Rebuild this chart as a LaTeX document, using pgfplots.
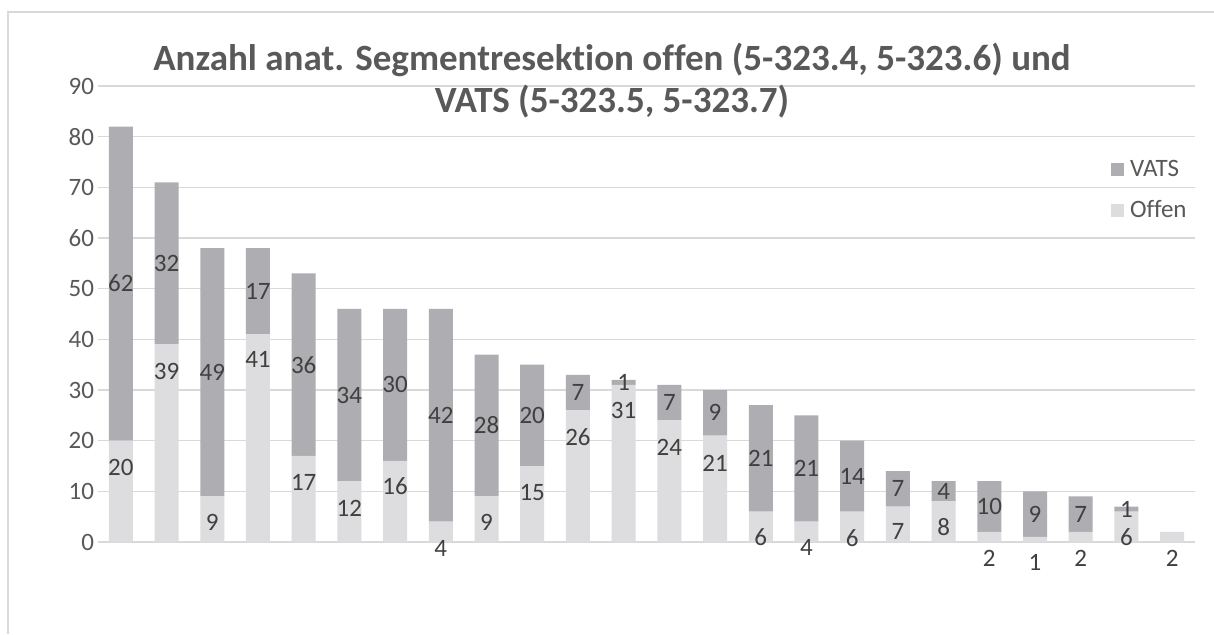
\documentclass[border=0pt]{standalone}
\usepackage{pgfplots}
\pgfplotsset{compat=1.18}
\usepackage{pgfplotstable}
\usepackage{fontspec}
\setmainfont{Carlito}[Ligatures=NoCommon]
\definecolor{vats}{HTML}{AEAEB2}
\definecolor{offen}{HTML}{DDDCDE}
\definecolor{gridc}{HTML}{D9D9D9}
\definecolor{txt}{HTML}{595959}
\definecolor{labc}{HTML}{404040}

\pgfplotstableread{
x off vats
0 20 62
1 39 32
2 9 49
3 41 17
4 17 36
5 12 34
6 16 30
7 4 42
8 9 28
9 15 20
10 26 7
11 31 1
12 24 7
13 21 9
14 6 21
15 4 21
16 6 14
17 7 7
18 8 4
19 2 10
20 1 9
21 2 7
22 6 1
23 2 0
}\datatab

\pgfplotstableread{
x y lab
0 14.8 20
1 33.7 39
2 3.9 9
3 36.1 41
4 11.8 17
5 6.7 12
6 11.1 16
7 -1.2 4
8 3.9 9
9 9.7 15
10 20.7 26
11 25.9 31
12 18.7 24
13 15.5 21
14 1.0 6
15 -1.0 4
16 0.8 6
17 2.0 7
18 3.0 8
19 -3.2 2
20 -4.1 1
21 -3.2 2
22 1.0 6
23 -3.2 2
}\offlab

\pgfplotstableread{
x y lab
0 51 62
1 55 32
2 33.5 49
3 49.5 17
4 35 36
5 29 34
6 31 30
7 25 42
8 23 28
9 25 20
10 29.5 7
11 31.5 1
12 27.5 7
13 25.5 9
14 16.5 21
15 14.5 21
16 13 14
17 10.5 7
18 10 4
19 7 10
20 5.5 9
21 5.5 7
22 6.5 1
}\vatslab

\begin{document}
\begin{tikzpicture}
\fill[white] (-49pt,-46pt) rectangle (558pt,271pt);
\useasboundingbox (-49pt,-46pt) rectangle (558pt,271pt);
\draw[gridc, line width=0.6pt] (-45pt,-46pt) -- (-45pt,265pt) -- (558pt,265pt);
\begin{axis}[
  scale only axis, width=548.5pt, height=228pt,
  xmin=-0.5, xmax=23.5, ymin=0, ymax=90,
  ybar stacked, bar width=12pt,
  axis line style={draw=none},
  xtick=\empty, ytick={0,10,...,90},
  major tick length=0pt,
  ymajorgrids, major grid style={gridc, line width=0.7pt},
  /pgf/number format/assume math mode=true,
  yticklabel style={font=\fontsize{12.5}{12.5}\selectfont, text=txt, xshift=1.5pt},
  reverse legend,
  legend style={draw=none, fill=none, at={(1.0,0.852)}, anchor=north east,
    font=\fontsize{12.5}{12.5}\selectfont, text=txt, row sep=8.5pt,
    nodes={inner sep=1pt}},
  legend cell align=left,
  legend image code/.code={\fill[#1] (0pt,-3.2pt) rectangle (6.5pt,3.2pt); \path (8.5pt,0pt);},
]
\addplot[fill=offen, draw=none] table[x=x, y=off]{\datatab};
\addlegendentry{Offen}
\addplot[fill=vats, draw=none] table[x=x, y=vats]{\datatab};
\addlegendentry{VATS}
\end{axis}
\begin{axis}[
  scale only axis, width=548.5pt, height=228pt,
  xmin=-0.5, xmax=23.5, ymin=0, ymax=90,
  hide axis, clip=false,
]
\addplot[only marks, mark=none, nodes near coords, point meta=explicit symbolic,
  nodes near coords style={anchor=center, font=\fontsize{12.5}{12.5}\selectfont, text=labc}]
  table[x=x, y=y, meta=lab]{\offlab};
\addplot[only marks, mark=none, nodes near coords, point meta=explicit symbolic,
  nodes near coords style={anchor=center, font=\fontsize{12.5}{12.5}\selectfont, text=labc}]
  table[x=x, y=y, meta=lab]{\vatslab};
\end{axis}
\node[align=center, text=txt, font=\bfseries\fontsize{18.5}{21}\selectfont] at (257pt,230.5pt)
  {Anzahl anat. Segmentresektion offen (5-323.4, 5-323.6) und\\VATS (5-323.5, 5-323.7)};
\end{tikzpicture}
\end{document}
